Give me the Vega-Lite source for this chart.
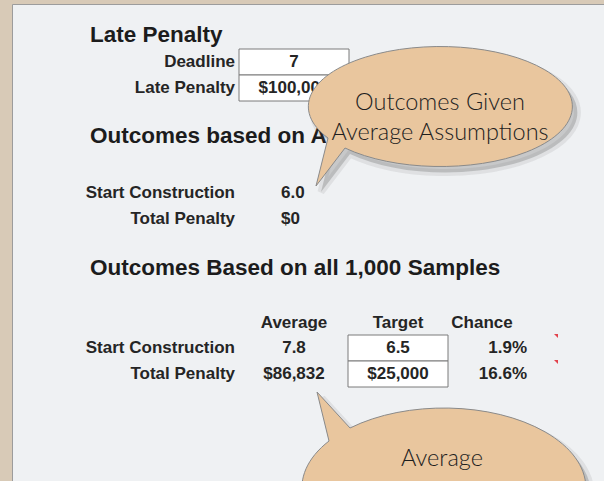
{
  "$schema": "https://vega.github.io/schema/vega-lite/v6.json",
  "width": 593,
  "height": 478,
  "autosize": {"type": "none"},
  "padding": {"left": 12, "top": 4, "right": 0, "bottom": 0},
  "background": "#d8cab7",
  "config": {"view": {"fill": "#eff1f3", "stroke": "#9c9c9c", "strokeWidth": 1}},
  "datasets": {
    "cells": [
      {"row": 1, "col": 0, "text": "Late Penalty"},
      {"row": 2, "col": 1, "text": "Deadline"},
      {"row": 2, "col": 3, "text": "7"},
      {"row": 3, "col": 1, "text": "Late Penalty"},
      {"row": 3, "col": 3, "text": "$100,000"},
      {"row": 4, "col": 0, "text": "Outcomes based on Average Assumptions"},
      {"row": 5, "col": 1, "text": "Start Construction"},
      {"row": 5, "col": 2, "text": "6.0"},
      {"row": 6, "col": 1, "text": "Total Penalty"},
      {"row": 6, "col": 2, "text": "$0"},
      {"row": 7, "col": 0, "text": "Outcomes Based on all 1,000 Samples"},
      {"row": 8, "col": 3, "text": "Average"},
      {"row": 8, "col": 4, "text": "Target"},
      {"row": 8, "col": 5, "text": "Chance"},
      {"row": 9, "col": 1, "text": "Start Construction"},
      {"row": 9, "col": 3, "text": "7.8"},
      {"row": 9, "col": 4, "text": "6.5"},
      {"row": 9, "col": 6, "text": "1.9%"},
      {"row": 10, "col": 1, "text": "Total Penalty"},
      {"row": 10, "col": 3, "text": "$86,832"},
      {"row": 10, "col": 4, "text": "$25,000"},
      {"row": 10, "col": 6, "text": "16.6%"}
    ],
    "inputs": [
      {"row": 2, "col": 3},
      {"row": 3, "col": 3},
      {"row": 9, "col": 4},
      {"row": 10, "col": 4}
    ],
    "comments": [
      {"row": 9, "col": 7},
      {"row": 10, "col": 7}
    ],
    "callouts": [
      {"id": "assumptions", "row": 5, "col": 2, "note": "Outcomes Given\nAverage Assumptions"},
      {"id": "average", "row": 10, "col": 3, "note": "Average"}
    ]
  },
  "encoding": {
    "x": {"field": "col", "type": "quantitative", "axis": null,
          "scale": {"domain": [0, 1, 2, 3, 4, 5, 6, 7], "range": [78, 223, 269, 282, 386, 470, 515, 544], "zero": false, "nice": false}},
    "y": {"field": "row", "type": "quantitative", "axis": null,
          "scale": {"domain": [1, 2, 3, 4, 5, 6, 7, 8, 9, 10], "range": [31, 58, 84, 132, 189, 215, 264, 319, 344, 370], "zero": false, "nice": false}}
  },
  "layer": [
    {
      "data": {"name": "inputs"},
      "transform": [{"filter": "datum.row < 5"}],
      "mark": {"type": "point", "shape": "M-55,-13H55V13H-55Z", "size": 4, "filled": true, "fill": "#ffffff", "stroke": "#7a7a7a", "strokeWidth": 1, "opacity": 1}
    },
    {
      "data": {"name": "inputs"},
      "transform": [{"filter": "datum.row > 5"}],
      "mark": {"type": "point", "shape": "M-50,-13H50V13H-50Z", "size": 4, "filled": true, "fill": "#ffffff", "stroke": "#7a7a7a", "strokeWidth": 1, "opacity": 1}
    },
    {
      "data": {"name": "cells"},
      "transform": [{"filter": "datum.col == 0"}],
      "mark": {"type": "text", "align": "left", "baseline": "middle", "font": "Liberation Sans", "fontWeight": "bold", "fontSize": 22.5, "color": "#1c1c1c"},
      "encoding": {"text": {"field": "text"}}
    },
    {
      "data": {"name": "cells"},
      "transform": [{"filter": "datum.col == 1"}],
      "mark": {"type": "text", "align": "right", "baseline": "middle", "font": "Liberation Sans", "fontWeight": "bold", "fontSize": 17, "color": "#252525"},
      "encoding": {"text": {"field": "text"}}
    },
    {
      "data": {"name": "cells"},
      "transform": [{"filter": "datum.col == 3 || datum.col == 4 || datum.col == 5"}],
      "mark": {"type": "text", "align": "center", "baseline": "middle", "font": "Liberation Sans", "fontWeight": "bold", "fontSize": 17, "color": "#252525"},
      "encoding": {"text": {"field": "text"}}
    },
    {
      "data": {"name": "cells"},
      "transform": [{"filter": "datum.col == 2"}],
      "mark": {"type": "text", "align": "left", "baseline": "middle", "font": "Liberation Sans", "fontWeight": "bold", "fontSize": 17, "color": "#252525"},
      "encoding": {"text": {"field": "text"}}
    },
    {
      "data": {"name": "cells"},
      "transform": [{"filter": "datum.col == 6"}],
      "mark": {"type": "text", "align": "right", "baseline": "middle", "font": "Liberation Sans", "fontWeight": "bold", "fontSize": 17, "color": "#252525"},
      "encoding": {"text": {"field": "text"}}
    },
    {
      "data": {"name": "comments"},
      "mark": {"type": "point", "shape": "M-2,-14L2,-14L2,-10Z", "size": 4, "filled": true, "fill": "#e0303a", "opacity": 0.9}
    },
    {
      "data": {"name": "callouts"},
      "transform": [{"filter": "datum.id == 'assumptions'"}],
      "mark": {"type": "point", "shape": "M52,-49A132,60 0 1 1 69,-39L40,-1Z", "size": 4, "filled": true, "fill": "#6a6a6a", "stroke": "#6a6a6a", "strokeWidth": 7, "strokeOpacity": 0.12, "fillOpacity": 0.3, "opacity": 1}
    },
    {
      "data": {"name": "callouts"},
      "transform": [{"filter": "datum.id == 'assumptions'"}],
      "mark": {"type": "point", "shape": "M47,-55A132,60 0 1 1 64,-45L35,-7Z", "size": 4, "filled": true, "fill": "#e9c69e", "stroke": "#8a8a8a", "strokeWidth": 1, "opacity": 1}
    },
    {
      "data": {"name": "callouts"},
      "transform": [{"filter": "datum.id == 'average'"}],
      "mark": {"type": "point", "shape": "M40,73A142,80 0 1 0 61,60L28,24Z", "size": 4, "filled": true, "fill": "#6a6a6a", "stroke": "#6a6a6a", "strokeWidth": 7, "strokeOpacity": 0.12, "fillOpacity": 0.3, "opacity": 1}
    },
    {
      "data": {"name": "callouts"},
      "transform": [{"filter": "datum.id == 'average'"}],
      "mark": {"type": "point", "shape": "M35,67A142,80 0 1 0 56,54L23,18Z", "size": 4, "filled": true, "fill": "#e9c69e", "stroke": "#8a8a8a", "strokeWidth": 1, "opacity": 1}
    },
    {
      "data": {"name": "callouts"},
      "transform": [{"filter": "datum.id == 'assumptions'"}],
      "mark": {"type": "text", "align": "center", "baseline": "middle", "dx": 159, "dy": -90, "lineBreak": "\n", "lineHeight": 30, "font": "Lato", "fontWeight": 300, "fontSize": 23.5, "color": "#1e1e1e"},
      "encoding": {"text": {"field": "note"}}
    },
    {
      "data": {"name": "callouts"},
      "transform": [{"filter": "datum.id == 'average'"}],
      "mark": {"type": "text", "align": "center", "baseline": "middle", "dx": 148, "dy": 85, "font": "Lato", "fontWeight": 300, "fontSize": 23.5, "color": "#1e1e1e"},
      "encoding": {"text": {"field": "note"}}
    }
  ]
}
